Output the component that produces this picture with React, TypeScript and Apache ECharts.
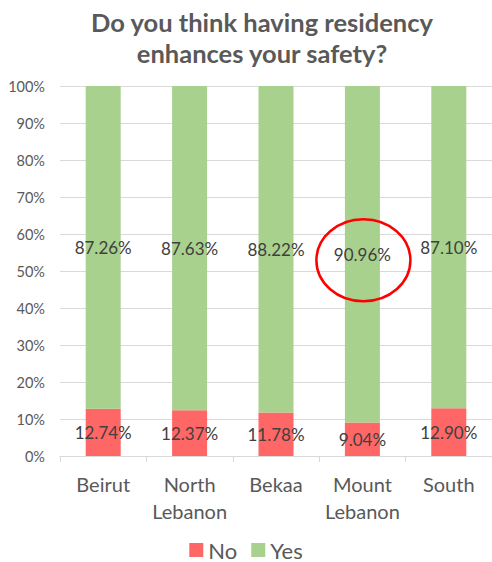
import React, { useEffect, useRef } from "react";
import * as echarts from "echarts";

const categories = ["Beirut", "North\nLebanon", "Bekaa", "Mount\nLebanon", "South"];
const noValues = [12.74, 12.37, 11.78, 9.04, 12.9];
const yesValues = [87.26, 87.63, 88.22, 90.96, 87.1];
const titleText = "Do you think having residency\nenhances your safety?";
const FONT = "Lato, 'Open Sans', sans-serif";

export default function App() {
  const ref = useRef<HTMLDivElement>(null);
  useEffect(() => {
    if (!ref.current) return;
    const chart = echarts.init(ref.current, null, { renderer: "svg" });
    const labelStyle = {
      show: true,
      position: "inside" as const,
      color: "#404040",
      fontSize: 17,
      fontFamily: FONT,
      formatter: (p: any) => p.value.toFixed(2) + "%",
    };
    chart.setOption({
      animation: false,
      backgroundColor: "#ffffff",
      textStyle: { fontFamily: FONT },
      title: {
        text: titleText,
        left: 257,
        textAlign: "center",
        top: 1,
        textStyle: { fontSize: 25.5, fontWeight: "bold", color: "#595959", lineHeight: 31, fontFamily: FONT },
      },
      legend: {
        bottom: -4,
        left: "center",
        itemWidth: 14,
        itemHeight: 14,
        itemGap: 14,
        icon: "rect",
        textStyle: { fontSize: 22, color: "#595959", fontFamily: FONT },
        data: ["No", "Yes"],
      },
      grid: { left: 60, top: 86, bottom: 106, right: -5, containLabel: false },
      xAxis: {
        type: "category",
        data: categories,
        axisLine: { lineStyle: { color: "#D9D9D9" } },
        axisTick: { show: true, length: 6, lineStyle: { color: "#D9D9D9" } },
        axisLabel: { interval: 0, color: "#595959", fontSize: 20, lineHeight: 27, margin: 14, fontFamily: FONT },
      },
      yAxis: {
        type: "value",
        min: 0,
        max: 100,
        interval: 10,
        axisLine: { show: false },
        axisTick: { show: false },
        splitLine: { lineStyle: { color: "#D9D9D9" } },
        axisLabel: { color: "#595959", fontSize: 14.5, margin: 15, formatter: "{value}%", fontFamily: FONT },
      },
      series: [
        {
          name: "No",
          type: "bar",
          stack: "total",
          barWidth: 35,
          data: noValues,
          itemStyle: { color: "#FF6666" },
          label: labelStyle,
        },
        {
          name: "Yes",
          type: "bar",
          stack: "total",
          barWidth: 35,
          data: yesValues,
          itemStyle: { color: "#A9D18E" },
          label: labelStyle,
        },
      ],
    });
    const c = chart.convertToPixel({ xAxisIndex: 0, yAxisIndex: 0 }, [3, noValues[3] + yesValues[3] / 2]) as number[];
    chart.setOption({
      graphic: [
        {
          type: "ellipse",
          shape: { cx: c[0] + 1, cy: c[1] + 6, rx: 47, ry: 41 },
          style: { fill: "none", stroke: "#FF0000", lineWidth: 2.5 },
          z: 100,
        },
      ],
    });
    return () => chart.dispose();
  }, []);
  return <div ref={ref} style={{ position: "fixed", left: 0, top: 0, width: 492, height: 562 }} />;
}
